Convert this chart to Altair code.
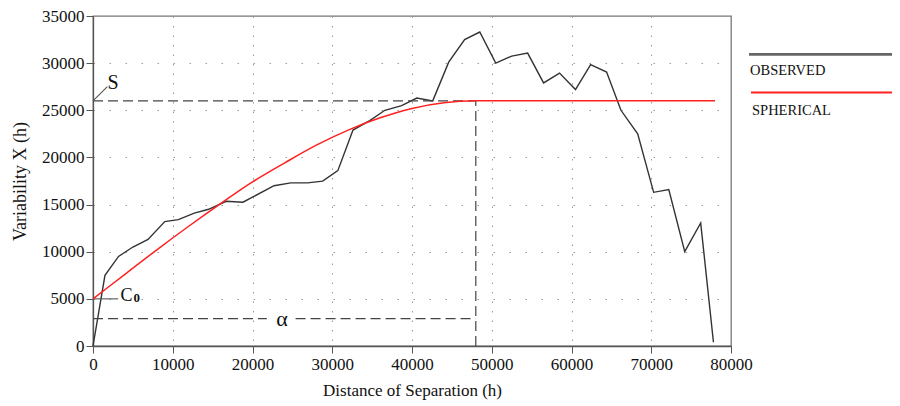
import altair as alt
import pandas as pd

# Observed variogram
obs_x = [0, 1500, 3200, 5000, 6900, 9000, 10700, 12700, 14500, 16700, 18800,
         22700, 24800, 26900, 28800, 30700, 32600, 34700, 36600, 38700, 40600,
         42600, 44600, 46600, 48500, 50500, 52500, 54500, 56500, 58500, 60500,
         62400, 64400, 66200, 68300, 70300, 72200, 74200, 76200, 77800]
obs_y = [0, 7500, 9500, 10500, 11300, 13200, 13400, 14100, 14500, 15350, 15250,
         17000, 17300, 17300, 17480, 18600, 22900, 23900, 25000, 25500, 26300,
         26000, 30100, 32500, 33300, 30000, 30750, 31070, 27900, 28950, 27200,
         29850, 29050, 25000, 22500, 16300, 16600, 10000, 13050, 400]

# Spherical model curve
sph_x = [0, 4000, 8000, 12000, 16000, 20000, 24000, 28000, 32000, 36000,
         40000, 44000, 48000, 78000]
sph_y = [5000, 7600, 10200, 12700, 15100, 17400, 19400, 21300, 22900, 24200,
         25200, 25800, 26000, 26000]

# Annotation values
sill = 26000
nugget = 5000
range_a = 48000
alpha_y = 2900

FONT = "Liberation Serif"
xscale = alt.Scale(domain=[0, 80000], nice=False, zero=False)
yscale = alt.Scale(domain=[0, 35000], nice=False, zero=False)

common = dict(
    labelFont=FONT, titleFont=FONT, labelFontSize=17,
    labelColor="#111111", titleColor="#111111", titleFontWeight="normal",
    domainColor="#555555", tickColor="#555555", domainWidth=1.3,
    gridColor="#999999", labelFlush=False,
)

x_axis = alt.Axis(
    title="Distance of Separation (h)",
    titleFontSize=17,
    values=list(range(0, 80001, 5000)),
    labelExpr="datum.value % 10000 == 0 ? datum.label : ''",
    format="d",
    tickSize={"condition": {"test": "datum.value % 10000 != 0", "value": 4}, "value": 7},
    grid=True,
    gridDash=[1.5, 8],
    gridOpacity={"condition": {"test": "datum.value % 10000 != 0 || datum.value == 0 || datum.value == 80000", "value": 0}, "value": 1},
    labelPadding=3,
    titlePadding=10,
    **common,
)
y_axis = alt.Axis(
    title="Variability X (h)",
    titleFontSize=18,
    values=list(range(0, 35001, 2500)),
    labelExpr="datum.value % 5000 == 0 ? datum.label : ''",
    format="d",
    tickSize={"condition": {"test": "datum.value % 5000 != 0", "value": 4}, "value": 7},
    grid=True,
    gridDash=[1.5, 14.5],
    gridOpacity={"condition": {"test": "datum.value % 5000 != 0 || datum.value == 0 || datum.value == 35000", "value": 0}, "value": 1},
    labelPadding=2,
    titlePadding=12,
    **common,
)

obs_df = pd.DataFrame({"h": obs_x, "v": obs_y})
sph_df = pd.DataFrame({"h": sph_x, "v": sph_y})

X = alt.X("h:Q", scale=xscale, title="Distance of Separation (h)")
Y = alt.Y("v:Q", scale=yscale, title="Variability X (h)")

obs = alt.Chart(obs_df).mark_line(color="#333333", strokeWidth=1.4).encode(
    x=alt.X("h:Q", scale=xscale, axis=x_axis),
    y=alt.Y("v:Q", scale=yscale, axis=y_axis),
)
sph = alt.Chart(sph_df).mark_line(color="#ff2020", strokeWidth=1.5, interpolate="monotone").encode(
    x=X, y=Y,
)

dash = [10, 5]
dash_df = pd.DataFrame({
    "h": [0, range_a, 0, 25400],
    "h2": [range_a, range_a, 21800, range_a],
    "v": [sill, 0, alpha_y, alpha_y],
    "v2": [sill, sill, alpha_y, alpha_y],
})
solid_df = pd.DataFrame({"h": [0, 0], "h2": [3150, 1800], "v": [nugget, sill], "v2": [nugget, 27500]})

dashed = alt.Chart(dash_df).mark_rule(
    color="#444444", strokeWidth=1.2, strokeDash=dash
).encode(x=X, x2="h2:Q", y=Y, y2="v2:Q")
solid = alt.Chart(solid_df).mark_rule(
    color="#555555", strokeWidth=1.1
).encode(x=X, x2="h2:Q", y=Y, y2="v2:Q")

lab_df = pd.DataFrame({
    "h": [2500, 4200, 23700],
    "v": [27900, 5330, alpha_y],
    "t": ["S", "C", "α"],
    "s": [20, 18, 22],
})
labels = alt.Chart(lab_df).mark_text(font=FONT, color="#111111", baseline="middle", align="center").encode(
    x=X, y=Y,
    text="t:N",
    size=alt.Size("s:Q", scale=None, legend=None),
)
sub_df = pd.DataFrame({"h": [5500], "v": [5050], "t": ["0"]})
sub = alt.Chart(sub_df).mark_text(font=FONT, color="#111111", baseline="middle", align="center",
                                  fontSize=13, fontWeight="bold").encode(
    x=X, y=Y, text="t:N",
)

one = pd.DataFrame({"a": [0]})
leg_obs_line = alt.Chart(one).mark_rule(color="#666666", strokeWidth=2.8).encode(
    x=alt.value(656), x2=alt.value(820), y=alt.value(38.3))
leg_sph_line = alt.Chart(one).mark_rule(color="#ff2020", strokeWidth=2).encode(
    x=alt.value(658), x2=alt.value(820), y=alt.value(76.6))
leg_obs_text = alt.Chart(one).mark_text(font=FONT, fontSize=14.5, align="left", baseline="middle", color="#111111").encode(
    x=alt.value(657), y=alt.value(54.5), text=alt.value("OBSERVED"))
leg_sph_text = alt.Chart(one).mark_text(font=FONT, fontSize=14.5, align="left", baseline="middle", color="#111111").encode(
    x=alt.value(659), y=alt.value(94.5), text=alt.value("SPHERICAL"))

chart = alt.layer(
    obs, dashed, solid, sph, labels, sub,
    leg_obs_line, leg_sph_line, leg_obs_text, leg_sph_text,
).properties(
    width=638, height=330,
    autosize=alt.AutoSizeParams(type="none"),
    padding={"left": 85, "top": 8, "right": 161, "bottom": 58},
).configure_view(
    stroke="#777777", strokeWidth=1.3
)

chart.save("out.html", embed_options={"renderer": "svg", "actions": False})
